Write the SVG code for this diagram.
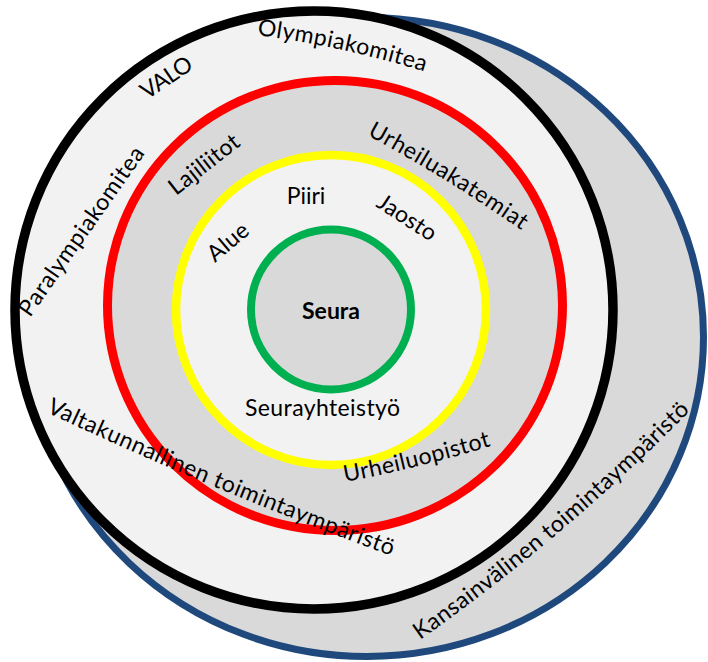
<svg xmlns="http://www.w3.org/2000/svg" width="708" height="662" viewBox="0 0 708 662">
  <style>
    .lbl { font-family: Lato, "Liberation Sans", sans-serif; font-size: 23px; fill: #000; }
    .bold { font-weight: 700; }
    .dark { fill: #d9d9d9; }
    .light { fill: #f2f2f2; }
  </style>
  <defs>
    <!-- baselines for the curved labels -->
    <path id="arc-olymp" d="M257 35 Q343 46.5 426 72"/>
    <path id="arc-valta" d="M46 412 Q213.6 491 392 556"/>
    <path id="arc-kans" d="M420 640 Q567 536 694 407"/>
    <path id="arc-akat" d="M367 135 Q448 179 524 232"/>
    <path id="arc-opist" d="M345 482 Q419 468 491 446"/>
  </defs>

  <rect width="708" height="662" fill="#ffffff"/>

  <!-- rings, outermost first -->
  <g id="international">
    <ellipse class="dark" cx="367" cy="337" rx="336.5" ry="319.5" stroke="#1f497d" stroke-width="7"/>
  </g>
  <g id="national">
    <circle class="light" cx="314" cy="310" r="299" stroke="#000000" stroke-width="9.5"/>
  </g>
  <g id="federations">
    <ellipse class="dark" cx="335" cy="305.5" rx="227.5" ry="225" stroke="#ff0000" stroke-width="9"/>
  </g>
  <g id="regional">
    <circle class="light" cx="331" cy="310" r="155" stroke="#ffff00" stroke-width="8.5"/>
  </g>
  <g id="club">
    <circle class="dark" cx="331" cy="309.5" r="80" stroke="#00b050" stroke-width="8"/>
    <text class="lbl bold" x="331" y="319" text-anchor="middle">Seura</text>
  </g>

  <!-- labels -->
  <g id="labels">
    <text class="lbl"><textPath href="#arc-olymp" textLength="171.5">Olympiakomitea</textPath></text>
    <text class="lbl" x="147" y="100" transform="rotate(-34 147 100)" textLength="57.3">VALO</text>
    <text class="lbl" x="30" y="318" transform="rotate(-55 30 318)" textLength="201">Paralympiakomitea</text>
    <text class="lbl" x="176" y="196" transform="rotate(-38 176 196)" textLength="83">Lajiliitot</text>
    <text class="lbl"><textPath href="#arc-akat" textLength="181.7">Urheiluakatemiat</textPath></text>
    <text class="lbl" x="306" y="204" text-anchor="middle">Piiri</text>
    <text class="lbl" x="375" y="206" transform="rotate(33 375 206)" textLength="66">Jaosto</text>
    <text class="lbl" x="215" y="263" transform="rotate(-40 215 263)" textLength="46.9">Alue</text>
    <text class="lbl" x="245" y="416" textLength="155">Seurayhteistyö</text>
    <text class="lbl"><textPath href="#arc-opist" textLength="150.5">Urheiluopistot</textPath></text>
    <text class="lbl"><textPath href="#arc-valta" textLength="374.2">Valtakunnallinen toimintaympäristö</textPath></text>
    <text class="lbl"><textPath href="#arc-kans" textLength="354.7">Kansainvälinen toimintaympäristö</textPath></text>
  </g>
</svg>
